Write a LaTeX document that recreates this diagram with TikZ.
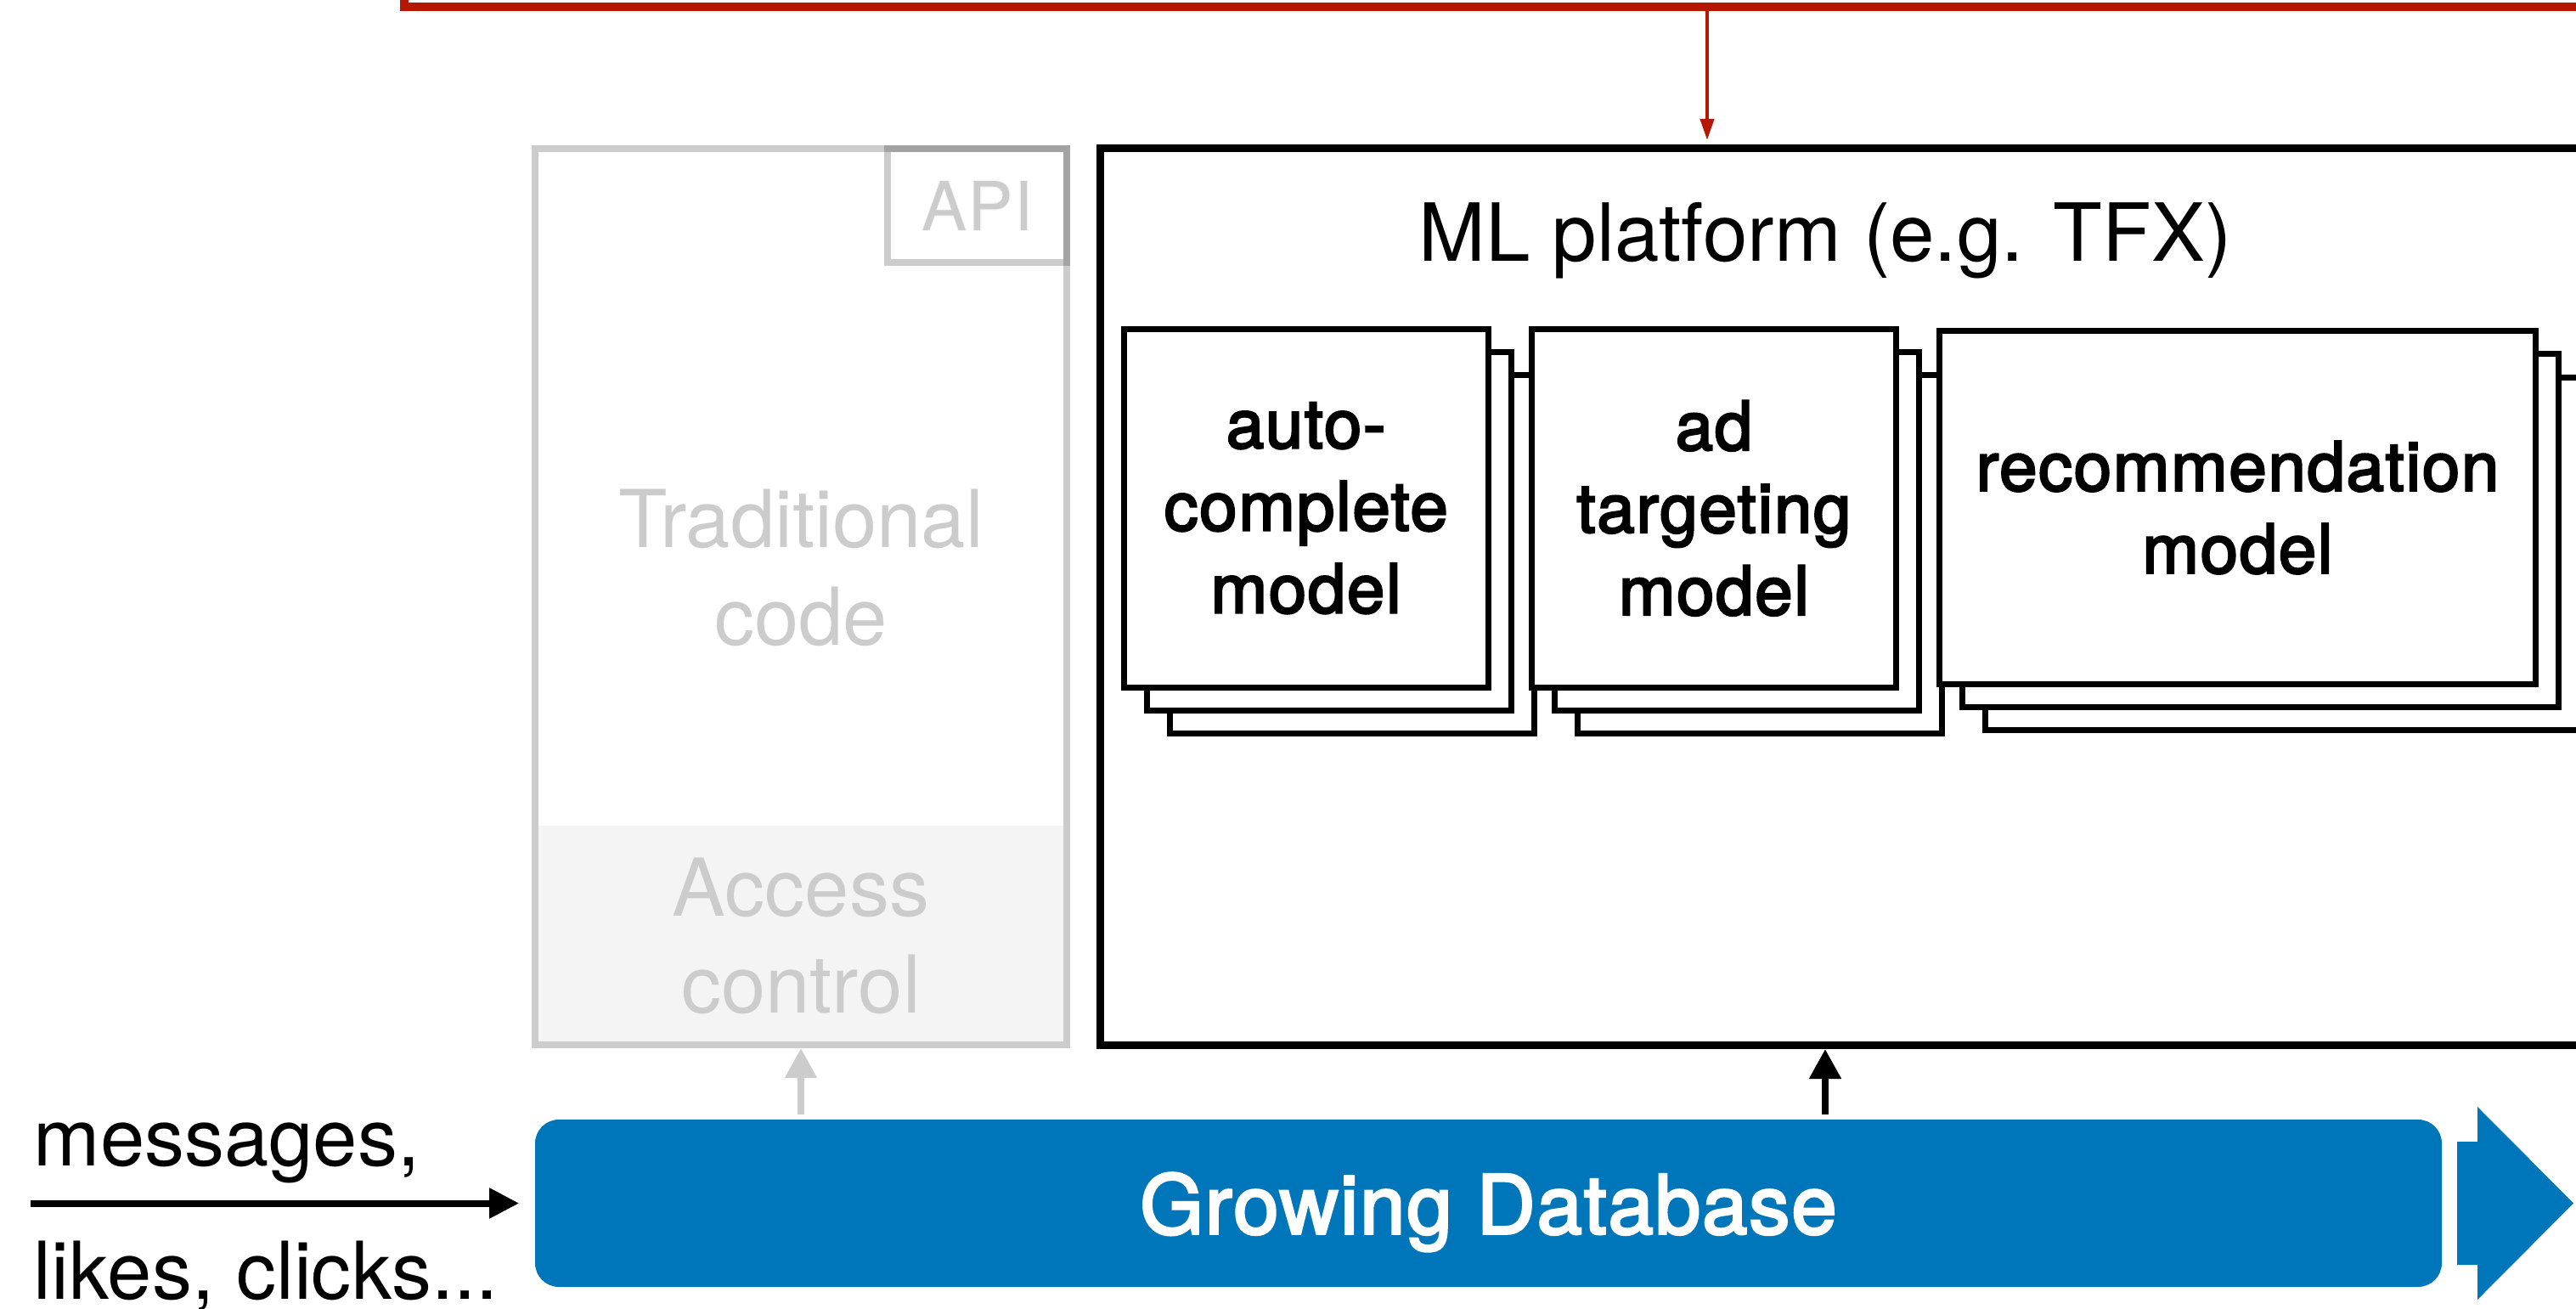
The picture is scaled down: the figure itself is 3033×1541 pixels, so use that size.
\documentclass[tikz,border=0pt]{standalone}
\usepackage{fontspec}
\setmainfont{TeX Gyre Heros}
\newfontfamily\medfont[FakeBold=3, LetterSpace=2]{TeX Gyre Heros}
\usetikzlibrary{arrows.meta}

\definecolor{dbblue}{RGB}{0,118,186}
\definecolor{fbred}{HTML}{B51700}
\definecolor{faded}{HTML}{CCCCCC}
\definecolor{acfill}{HTML}{F4F4F4}

\begin{document}
\begin{tikzpicture}[x=0.25pt, y=-0.25pt,
  every node/.style={inner sep=0pt},
  bigtext/.style={font=\fontsize{23.5}{28.75}\selectfont},
  fadedbox/.style={draw=black, draw opacity=0.2, line width=2pt},
  modelbox/.style={draw, fill=white, line width=1.75pt, align=center,
    font=\medfont\fontsize{20}{24.25}\selectfont},
  smallbox/.style={modelbox, minimum width=107.125pt, minimum height=105.4pt},
  widebox/.style={modelbox, minimum width=175.5pt, minimum height=103.75pt},
  feed/.style={line width=2pt, -{Triangle[length=8.75pt, width=9pt]}},
]
\useasboundingbox (0,0) rectangle (3033,1541);
\clip (0,0) rectangle (3033,1541);

% feedback loop coming down from above
\coordinate (redtop) at (476,-40);
\coordinate (redcorner) at (476,8.5);
\coordinate (redend) at (3100,8.5);
\coordinate (redtap) at (2010,8.5);
\draw[fbred, line width=2.5pt] (redtop) -- (redcorner) -- (redend);

% traditional code column (faded)
\fill[acfill] (634,972) rectangle (1252,1226);
\node[fadedbox, minimum width=52.75pt, minimum height=33.5pt, text=faded,
      font=\medfont\fontsize{19.8}{24}\selectfont] (api) at (1150.5,242) {API};
\node[fadedbox, minimum width=156.5pt, minimum height=263.75pt] (trad) at (943,702.5) {};
\node[bigtext, text=faded, align=center] (tradlabel) at (943,668) {Traditional\\code};
\node[bigtext, text=faded, align=center, font=\fontsize{23.5}{28.5}\selectfont]
      (acclabel) at (943,1101.5) {Access\\control};

% ML platform
\node[draw, line width=2.25pt, minimum width=451.25pt, minimum height=264pt] (ml) at (2197.5,702.5) {};
\node[font=\fontsize{23.6}{28}\selectfont, anchor=base] (mltitle) at (2149,308) {ML platform (e.g. TFX)};

% model stacks
\node[smallbox] (acC) at (1591.75,652.25) {};
\node[smallbox] (acB) at (1564.75,625.25) {};
\node[smallbox] (acA) at (1537.75,598.25) {auto-\\complete\\model};

\node[smallbox] (adC) at (2072,652.25) {};
\node[smallbox] (adB) at (2045,625.25) {};
\node[smallbox] (adA) at (2018,598.25) {ad\\targeting\\model};

\node[widebox] (recC) at (2688.5,651.5) {};
\node[widebox] (recB) at (2661.5,624.5) {};
\node[widebox] (recA) at (2634.5,597.5) {recommendation\\model};

% growing database
\node[fill=dbblue, rounded corners=7pt, minimum width=561.25pt, minimum height=49.25pt,
      text=white, text depth=0pt, font=\medfont\fontsize{24}{28}\selectfont]
      (db) at (1752.5,1416.5) {Growing Database};
\fill[dbblue] (2893,1344) -- (2917,1344) -- (2917,1303) -- (3030,1416.5)
  -- (2917,1530) -- (2917,1489) -- (2893,1489) -- cycle;

% incoming data
\coordinate (src) at (36,1416.5);
\node[bigtext, anchor=base west] (msg) at (39,1372) {messages,};
\node[bigtext, anchor=base west] (clicks) at (39,1529) {likes, clicks...};
\draw[line width=2pt, -{Triangle[length=8.75pt, width=8.5pt]}] (src) -- ([xshift=-4.5pt]db.west);

% database feeds
\draw[feed, faded] ([yshift=1.25pt]trad.south |- db.north) -- (trad.south);
\draw[feed] ([yshift=1.25pt]mltitle |- db.north) -- (mltitle |- ml.south);

% feedback arrow into the platform
\draw[fbred, line width=1pt, shorten >=1.25pt, -{Triangle[length=6.25pt, width=4pt]}]
  (redtap) -- (redtap |- ml.north);
\end{tikzpicture}
\end{document}
